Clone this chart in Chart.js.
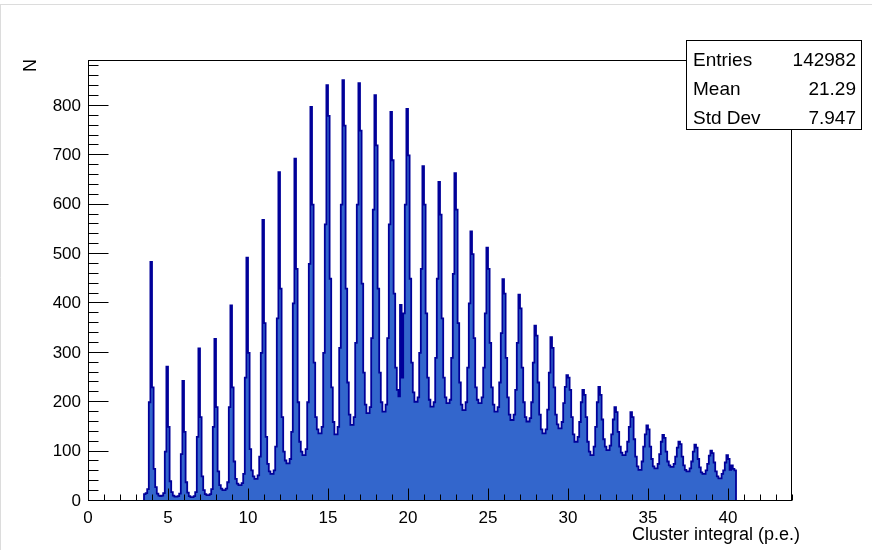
<!DOCTYPE html>
<html>
<head>
<meta charset="utf-8">
<script src="https://cdn.jsdelivr.net/npm/chart.js@4.4.1/dist/chart.umd.min.js"></script>
<style>
html,body{margin:0;padding:0;background:#ffffff;}
#wrap{width:872px;height:550px;position:relative;}
</style>
</head>
<body>
<div id="wrap"><canvas id="c" width="872" height="550"></canvas></div>
<script>
// ---- data (histogram, bin width 0.1 p.e., first bin starts at 3.5) ----
const binLow = 3.5;
const binWidth = 0.1;
const counts = [
  14, 16, 24, 200, 484, 230, 65, 28, 15, 11,
  10, 11, 16, 100, 272, 150, 40, 18, 11, 9,
  9, 10, 15, 95, 243, 140, 38, 17, 10, 8,
  8, 10, 18, 130, 309, 170, 50, 22, 14, 12,
  12, 14, 24, 150, 328, 190, 60, 32, 25, 22,
  22, 25, 38, 190, 396, 230, 80, 45, 35, 32,
  32, 36, 55, 250, 493, 300, 105, 62, 50, 45,
  45, 52, 90, 300, 569, 360, 130, 75, 60, 55,
  55, 62, 110, 370, 666, 430, 170, 100, 82, 76,
  76, 85, 140, 400, 693, 470, 200, 120, 100, 93,
  93, 105, 200, 480, 798, 600, 280, 170, 145, 137,
  137, 150, 300, 560, 842, 780, 450, 230, 160, 135,
  135, 150, 310, 600, 852, 760, 430, 240, 175, 154,
  154, 170, 320, 600, 846, 750, 440, 260, 195, 178,
  178, 190, 330, 590, 822, 720, 430, 260, 200, 181,
  181, 195, 330, 560, 788, 690, 420, 270, 225, 212,
  397, 250, 380, 600, 794, 700, 450, 280, 220, 201,
  201, 210, 300, 470, 678, 600, 380, 250, 205, 191,
  191, 200, 290, 450, 646, 580, 370, 250, 210, 198,
  198, 205, 290, 460, 664, 590, 360, 240, 195, 184,
  184, 200, 270, 400, 546, 500, 330, 230, 205, 198,
  198, 210, 270, 380, 513, 470, 320, 230, 195, 181,
  181, 190, 240, 340, 449, 420, 290, 210, 175, 164,
  164, 175, 225, 320, 418, 390, 270, 200, 170, 161,
  161, 168, 200, 280, 355, 335, 240, 175, 145, 137,
  137, 145, 185, 260, 332, 310, 230, 175, 155, 147,
  147, 160, 198, 231, 255, 250, 225, 170, 135, 120,
  120, 130, 160, 200, 225, 215, 170, 120, 100, 93,
  93, 110, 150, 200, 231, 215, 165, 125, 110, 103,
  103, 112, 135, 165, 190, 180, 140, 110, 98, 93,
  93, 100, 120, 150, 180, 170, 125, 90, 70, 63,
  63, 80, 110, 135, 153, 145, 110, 85, 70, 66,
  66, 75, 95, 120, 134, 128, 100, 80, 72, 69,
  69, 75, 90, 108, 120, 115, 90, 72, 63, 60,
  60, 66, 80, 100, 114, 108, 85, 68, 58, 55,
  55, 62, 75, 92, 102, 97, 78, 60, 50, 46,
  46, 55, 62, 78, 93, 85, 63, 72, 65, 62
];
const xRange = [0, 44];
const yRange = [0, 893];
const xTickLabels = [0, 5, 10, 15, 20, 25, 30, 35, 40];
const yTickLabels = [0, 100, 200, 300, 400, 500, 600, 700, 800];
const xMinorStep = 1;
const yMinorStep = 20;
const xTitle = 'Cluster integral (p.e.)';
const yTitle = 'N';
const statsNames = ['Entries', 'Mean', 'Std Dev'];
const statsValues = ['142982', '21.29', '7.947'];

// ---- build step points from bins ----
const points = [{x: binLow, y: 0}];
counts.forEach((c, i) => points.push({x: Math.round((binLow + i * binWidth) * 10) / 10, y: c}));
points.push({x: Math.round((binLow + counts.length * binWidth) * 10) / 10, y: 0});

const FONT = '"Liberation Sans", Arial, Helvetica, sans-serif';

const rootStyle = {
  id: 'rootStyle',
  beforeDraw(chart) {
    const ctx = chart.ctx;
    ctx.save();
    ctx.fillStyle = '#ffffff';
    ctx.fillRect(0, 0, chart.width, chart.height);
    ctx.strokeStyle = '#dcdcdc';
    ctx.lineWidth = 1;
    ctx.beginPath();
    ctx.moveTo(0, 4.5); ctx.lineTo(chart.width, 4.5);
    ctx.moveTo(0.5, 4.5); ctx.lineTo(0.5, chart.height);
    ctx.stroke();
    ctx.restore();
  },
  afterDatasetsDraw(chart) {
    const ctx = chart.ctx;
    const a = chart.chartArea;
    const xs = chart.scales.x, ys = chart.scales.y;
    const L = Math.round(a.left) + 0.5, R = Math.round(a.right) - 0.5;
    const T = Math.round(a.top) + 0.5, B = Math.round(a.bottom) - 0.5;
    ctx.save();
    ctx.strokeStyle = '#000000';
    ctx.lineWidth = 1;
    ctx.strokeRect(L, T, R - L, B - T);
    ctx.beginPath();
    // x ticks (inside, upward)
    for (let v = xRange[0]; v <= xRange[1] + 1e-9; v += xMinorStep) {
      const px = Math.round(xs.getPixelForValue(v)) + 0.5;
      const major = xTickLabels.includes(v);
      ctx.moveTo(px, B);
      ctx.lineTo(px, B - (major ? 12 : 6));
    }
    // y ticks (inside, rightward)
    for (let v = yRange[0]; v <= yRange[1]; v += yMinorStep) {
      const py = Math.round(ys.getPixelForValue(v)) - 0.5;
      const major = yTickLabels.includes(v);
      ctx.moveTo(L, py);
      ctx.lineTo(L + (major ? 20 : 10), py);
    }
    ctx.stroke();
    ctx.restore();
  },
  afterDraw(chart) {
    const ctx = chart.ctx;
    ctx.save();
    // axis titles
    ctx.fillStyle = '#000000';
    ctx.font = '18px ' + FONT;
    ctx.textAlign = 'right';
    ctx.textBaseline = 'alphabetic';
    ctx.fillText(xTitle, 800, 540);
    ctx.save();
    ctx.translate(36, 59);
    ctx.rotate(-Math.PI / 2);
    ctx.textAlign = 'right';
    ctx.fillText(yTitle, 0, 0);
    ctx.restore();
    // stats box
    const bx = 686.5, by = 40.5, bw = 175, bh = 89;
    ctx.fillStyle = '#ffffff';
    ctx.fillRect(bx, by, bw, bh);
    ctx.strokeStyle = '#000000';
    ctx.lineWidth = 1;
    ctx.strokeRect(bx, by, bw, bh);
    ctx.fillStyle = '#000000';
    ctx.font = '19px ' + FONT;
    const baselines = [66, 95, 124];
    statsNames.forEach((n, i) => {
      ctx.textAlign = 'left';
      ctx.fillText(n, 693, baselines[i]);
      ctx.textAlign = 'right';
      ctx.fillText(statsValues[i], 856, baselines[i]);
    });
    ctx.restore();
  }
};

new Chart(document.getElementById('c'), {
  type: 'line',
  data: {
    datasets: [{
      data: points,
      stepped: true,
      fill: 'origin',
      backgroundColor: '#3366cc',
      borderColor: '#000099',
      borderWidth: 1.8,
      pointRadius: 0,
      pointHoverRadius: 0,
      tension: 0
    }]
  },
  options: {
    responsive: false,
    animation: false,
    devicePixelRatio: 1,
    events: [],
    layout: {padding: {top: 60, right: 80, bottom: 0, left: 0}},
    plugins: {legend: {display: false}, tooltip: {enabled: false}, title: {display: false}},
    scales: {
      x: {
        type: 'linear',
        min: xRange[0],
        max: xRange[1],
        afterBuildTicks: s => { s.ticks = xTickLabels.map(v => ({value: v})); },
        afterFit: s => { s.height = 49; },
        grid: {display: false, drawTicks: false, tickLength: 0},
        border: {display: false},
        ticks: {autoSkip: false, maxRotation: 0, padding: 7, color: '#000000',
                font: {family: FONT, size: 17}}
      },
      y: {
        type: 'linear',
        min: yRange[0],
        max: yRange[1],
        afterBuildTicks: s => { s.ticks = yTickLabels.map(v => ({value: v})); },
        afterFit: s => { s.width = 88; },
        grid: {display: false, drawTicks: false, tickLength: 0},
        border: {display: false},
        ticks: {padding: 7, color: '#000000', font: {family: FONT, size: 17}}
      }
    }
  },
  plugins: [rootStyle]
});
</script>
</body>
</html>
